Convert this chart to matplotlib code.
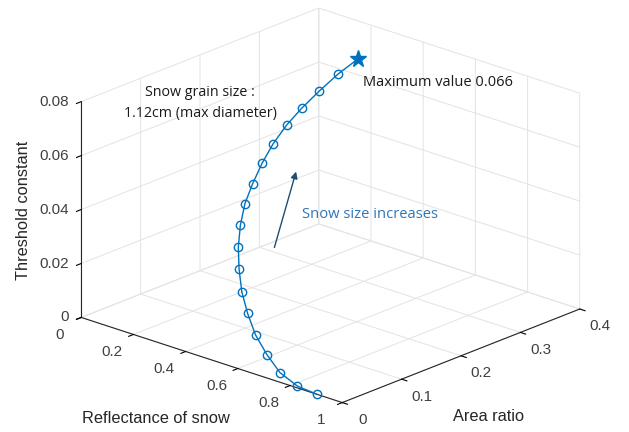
import numpy as np
import matplotlib
matplotlib.use('Agg')
from matplotlib import pyplot as plt
from matplotlib.patches import FancyArrowPatch

# snow reflectance, area ratio and threshold along the grain-size sweep
reflectance = [0.903, 0.825, 0.750, 0.686, 0.623, 0.567, 0.514, 0.467, 0.422, 0.382,
               0.346, 0.317, 0.289, 0.261, 0.237, 0.212, 0.192, 0.171, 0.151]
area_ratio = [0.0, 0.0012, 0.0049, 0.0111, 0.0198, 0.0309, 0.0444, 0.0605, 0.079, 0.100,
              0.1235, 0.1494, 0.1778, 0.2086, 0.242, 0.2778, 0.316, 0.3568, 0.400]
threshold = [0.0, 0.0005, 0.0028, 0.0069, 0.0114, 0.0167, 0.0219, 0.0274, 0.0325, 0.0375,
             0.0424, 0.0467, 0.0510, 0.0546, 0.0579, 0.0601, 0.0625, 0.0646, 0.066]

x_ticks = [0, 0.2, 0.4, 0.6, 0.8, 1]
y_ticks = [0, 0.1, 0.2, 0.3, 0.4]
z_ticks = [0, 0.02, 0.04, 0.06, 0.08]
x_labels = ['0', '0.2', '0.4', '0.6', '0.8', '1']
y_labels = ['0', '0.1', '0.2', '0.3', '0.4']
z_labels = ['0', '0.02', '0.04', '0.06', '0.08']

blue = '#0072BD'
dark = '#262626'
plt.rcParams['font.family'] = ['Liberation Sans', 'DejaVu Sans']

fig = plt.figure(figsize=(6.29, 4.32), dpi=100)
ax = fig.add_axes([-0.104, -0.110, 1.236, 1.236], projection='3d', proj_type='ortho')
ax.view_init(elev=21, azim=-47.7)
ax.set_box_aspect((1, 1, 0.655))

# line with open circles, star on the last point
ax.plot(reflectance, area_ratio, threshold, color=blue, lw=1.0)
ax.plot(reflectance[:-1], area_ratio[:-1], threshold[:-1], ls='none', marker='o',
        ms=6, mfc='none', mec=blue, mew=1.0)
ax.plot(reflectance[-1:], area_ratio[-1:], threshold[-1:], ls='none', marker='*',
        ms=12.5, color=blue)

ax.set_xlim(0, 1)
ax.set_ylim(0, 0.4)
ax.set_zlim(0, 0.08)
ax.set_xticks(x_ticks, labels=[])
ax.set_yticks(y_ticks, labels=[])
ax.set_zticks(z_ticks, labels=[])
ax.zaxis.set_ticks_position('lower')
ax.title.set_visible(False)

for axis in (ax.xaxis, ax.yaxis, ax.zaxis):
    axis.set_tick_params(label1On=False, label2On=False)
    axis.label.set_visible(False)
    axis.offsetText.set_visible(False)
    axis.set_pane_color((1, 1, 1, 0))
    axis.pane.set_edgecolor((1, 1, 1, 0))
    axis._axinfo['grid']['color'] = '#e3e3e3'
    axis._axinfo['grid']['linewidth'] = 0.7
    axis._axinfo['tick']['color'] = dark
    axis._axinfo['tick']['inward_factor'] = 0.25
    axis._axinfo['tick']['outward_factor'] = 0.0
    axis.line.set_color(dark)
    axis.line.set_linewidth(0.8)

# tick labels placed just outside the box edges
tick_kw = dict(fontsize=11, color='#404040', ha='center', va='center')
for v, s in zip(x_ticks, x_labels):
    ax.text(v, -0.036, -0.0035, s, **tick_kw)
for v, s in zip(y_ticks, y_labels):
    ax.text(1.078, v, -0.004, s, **tick_kw)
for v, s in zip(z_ticks, z_labels):
    ax.text(-0.026, -0.0095, v, s, fontsize=11, color='#404040', ha='right', va='center')

# axis titles
fig.text(0.248, 0.032, 'Reflectance of snow', ha='center', va='center', fontsize=11.8, color=dark)
fig.text(0.777, 0.036, 'Area ratio', ha='center', va='center', fontsize=11.8, color=dark)
fig.text(0.037, 0.512, 'Threshold constant', ha='center', va='center', rotation=90,
         fontsize=11.8, color=dark)

# annotations
note_font = ['Open Sans', 'DejaVu Sans']
fig.text(0.318, 0.762, 'Snow grain size :\n1.12cm (max diameter)', ha='center', va='center',
         fontsize=10.3, family=note_font, color='#1a1a1a', linespacing=1.5)
fig.text(0.577, 0.808, 'Maximum value 0.066', ha='left', va='center', fontsize=10.5,
         family=note_font, color='#1a1a1a')
fig.text(0.480, 0.503, 'Snow size increases', ha='left', va='center', fontsize=10.6,
         family=note_font, color='#2e75b6')
fig.add_artist(FancyArrowPatch(
    (0.435, 0.421), (0.472, 0.609), transform=fig.transFigure,
    arrowstyle='-|>', mutation_scale=10, color='#1f4e6e', lw=1.0))

fig.savefig('out.png', dpi=100)
